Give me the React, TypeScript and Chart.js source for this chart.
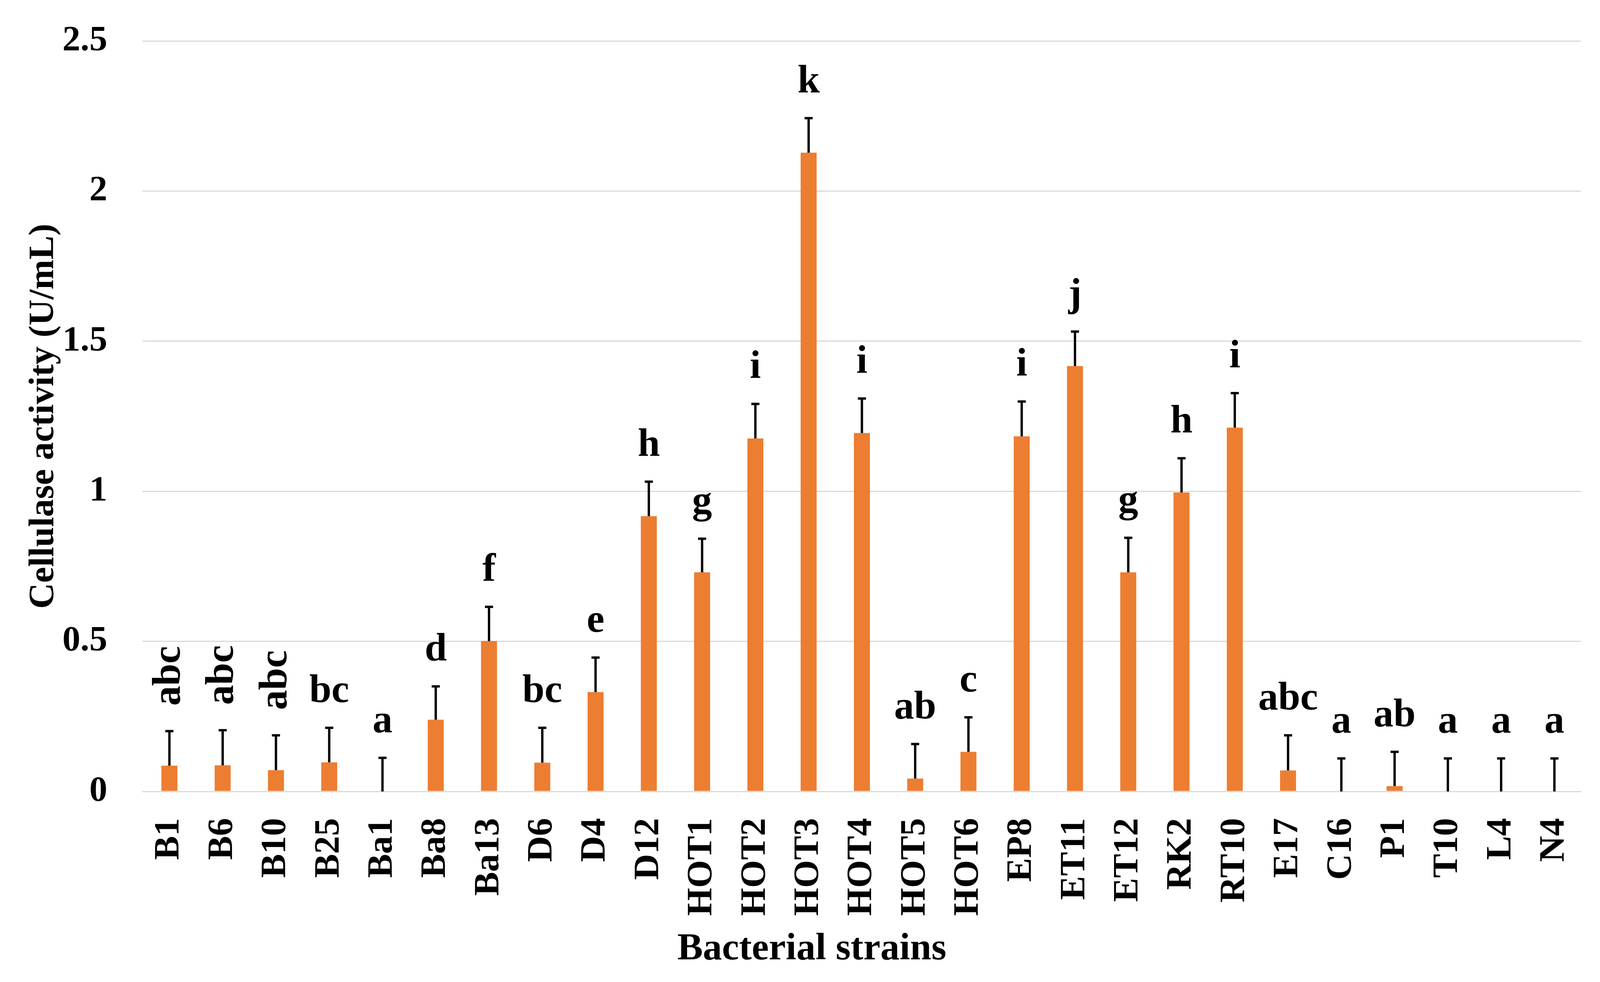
import React, { useEffect, useRef } from 'react';
import { Chart, registerables } from 'chart.js';

Chart.register(...registerables);

const strains = ['B1', 'B6', 'B10', 'B25', 'Ba1', 'Ba8', 'Ba13', 'D6', 'D4', 'D12', 'HOT1', 'HOT2', 'HOT3', 'HOT4', 'HOT5', 'HOT6', 'EP8', 'ET11', 'ET12', 'RK2', 'RT10', 'E17', 'C16', 'P1', 'T10', 'L4', 'N4'];
const activity = [0.086, 0.087, 0.071, 0.097, 0, 0.239, 0.501, 0.096, 0.331, 0.917, 0.730, 1.176, 2.128, 1.194, 0.043, 0.132, 1.183, 1.417, 0.730, 0.996, 1.212, 0.070, 0, 0.018, 0, 0, 0];
const errors = [0.115, 0.117, 0.116, 0.115, 0.112, 0.111, 0.114, 0.116, 0.115, 0.115, 0.112, 0.115, 0.115, 0.115, 0.115, 0.115, 0.116, 0.115, 0.115, 0.114, 0.115, 0.117, 0.11, 0.114, 0.11, 0.11, 0.11];
const letters = ['abc', 'abc', 'abc', 'bc', 'a', 'd', 'f', 'bc', 'e', 'h', 'g', 'i', 'k', 'i', 'ab', 'c', 'i', 'j', 'g', 'h', 'i', 'abc', 'a', 'ab', 'a', 'a', 'a'];
const verticalLetterStrains = ['B1', 'B6', 'B10'];
const yMin = 0;
const yMax = 2.5;
const yStep = 0.5;
const xTitle = 'Bacterial strains';
const yTitle = 'Cellulase activity (U/mL)';

const FONT = '"Liberation Serif", "Times New Roman", serif';
const REF_W = 4337;
const CLEAR = 'rgba(0,0,0,0)';

export default function App() {
  const ref = useRef<HTMLCanvasElement | null>(null);

  useEffect(() => {
    document.body.style.margin = '0';
    document.body.style.overflow = 'hidden';
    const canvas = ref.current;
    if (!canvas) return;
    const W = window.innerWidth || REF_W;
    const H = window.innerHeight || 2515;
    canvas.width = W;
    canvas.height = H;
    const kx = W / REF_W;

    const annotations = {
      id: 'annotations',
      afterDatasetsDraw(chart: any) {
        const ctx = chart.ctx;
        const meta = chart.getDatasetMeta(0);
        const y = chart.scales.y;
        ctx.save();
        meta.data.forEach((bar: any, i: number) => {
          const x = bar.x;
          const yTop = y.getPixelForValue(activity[i]);
          const yErr = y.getPixelForValue(activity[i] + errors[i]);
          ctx.strokeStyle = '#000';
          ctx.lineWidth = 6;
          ctx.lineCap = 'butt';
          ctx.beginPath();
          ctx.moveTo(x, yTop);
          ctx.lineTo(x, yErr);
          ctx.stroke();
          ctx.beginPath();
          ctx.moveTo(x - 11 * kx, yErr);
          ctx.lineTo(x + 11 * kx, yErr);
          ctx.stroke();

          ctx.fillStyle = '#000';
          ctx.font = `bold 102px ${FONT}`;
          if (verticalLetterStrains.includes(strains[i])) {
            ctx.save();
            ctx.translate(x, yErr - 65);
            ctx.rotate(-Math.PI / 2);
            ctx.textAlign = 'left';
            ctx.textBaseline = 'middle';
            ctx.fillText(letters[i], 0, 0);
            ctx.restore();
          } else {
            ctx.textAlign = 'center';
            ctx.textBaseline = 'alphabetic';
            ctx.fillText(letters[i], x, yErr - 66);
          }
        });
        ctx.font = `bold 98px ${FONT}`;
        ctx.textAlign = 'center';
        ctx.textBaseline = 'alphabetic';
        ctx.fillStyle = '#000';
        ctx.fillText(xTitle, chart.width / 2 + 32 * kx, chart.height - 58);
        ctx.restore();
      },
    };

    const chart = new Chart(canvas, {
      type: 'bar',
      data: {
        labels: strains,
        datasets: [
          {
            data: activity,
            backgroundColor: '#ED7D31',
            borderWidth: 0,
            barPercentage: 0.3,
            categoryPercentage: 1,
          },
        ],
      },
      options: {
        responsive: false,
        devicePixelRatio: 1,
        animation: false,
        layout: { padding: { left: 0, right: 18 * kx, top: 105, bottom: 0 } },
        plugins: {
          legend: { display: false },
          tooltip: { enabled: false },
          title: { display: false },
        },
        scales: {
          x: {
            grid: { display: true, color: CLEAR, drawTicks: true, tickLength: 62, tickColor: CLEAR },
            border: { display: true, color: '#D9D9D9', width: 3 },
            ticks: {
              autoSkip: false,
              minRotation: 90,
              maxRotation: 90,
              padding: 6,
              color: '#000',
              font: { family: FONT, size: 92, weight: 'bold' },
            },
            afterFit(scale: any) {
              scale.height = 488;
            },
          },
          y: {
            min: yMin,
            max: yMax,
            border: { display: false },
            grid: { color: '#D9D9D9', lineWidth: 3, drawTicks: true, tickLength: 90 * kx, tickColor: CLEAR },
            ticks: {
              stepSize: yStep,
              padding: 6 * kx,
              color: '#000',
              font: { family: FONT, size: 92, weight: 'bold' },
              callback: (v: any) => String(v),
            },
            title: {
              display: true,
              text: yTitle,
              color: '#000',
              font: { family: FONT, size: 92, weight: 'bold' },
              padding: { top: 60 * kx, bottom: 0 },
            },
            afterFit(scale: any) {
              scale.width = 387 * kx;
            },
          },
        },
      },
      plugins: [annotations],
    });

    return () => chart.destroy();
  }, []);

  return <canvas ref={ref} style={{ display: 'block' }} />;
}
